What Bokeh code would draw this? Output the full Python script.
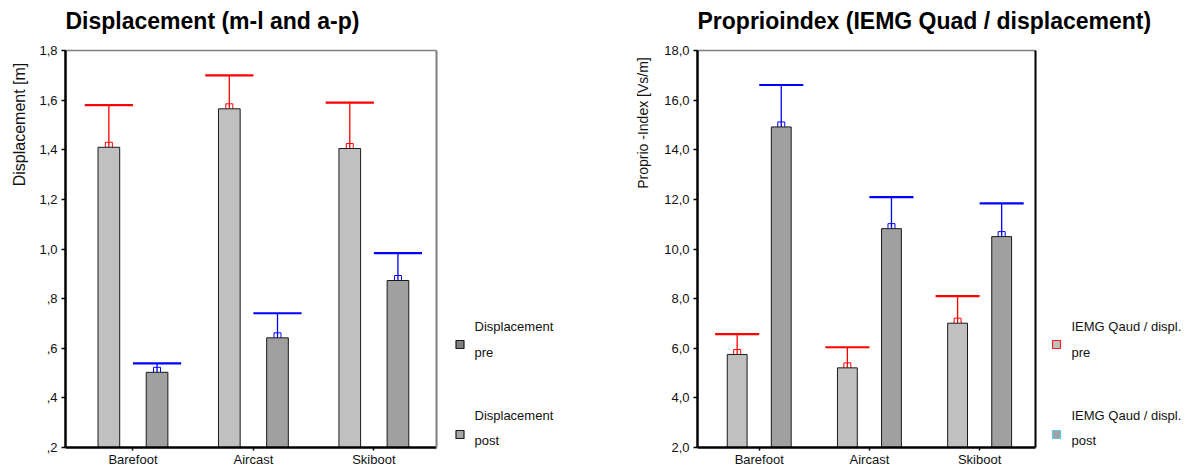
import numpy as np
from bokeh.plotting import figure
from bokeh.models import Range1d, FixedTicker, LinearAxis
from bokeh.core.properties import value
from bokeh.layouts import row, column
from bokeh.embed import file_html
from bokeh.resources import INLINE

# ---------------- data ----------------
categories = ["Barefoot", "Aircast", "Skiboot"]

disp_pre = [1.41, 1.565, 1.405]
disp_pre_err = [0.17, 0.135, 0.185]
disp_post = [0.503, 0.642, 0.873]
disp_post_err = [0.036, 0.099, 0.110]
disp_ticks = [0.2, 0.4, 0.6, 0.8, 1.0, 1.2, 1.4, 1.6, 1.8]
disp_tick_labels = [",2", ",4", ",6", ",8", "1,0", "1,2", "1,4", "1,6", "1,8"]

prop_pre = [5.75, 5.21, 7.01]
prop_pre_err = [0.82, 0.83, 1.09]
prop_post = [14.92, 10.82, 10.50]
prop_post_err = [1.69, 1.27, 1.34]
prop_ticks = [2.0, 4.0, 6.0, 8.0, 10.0, 12.0, 14.0, 16.0, 18.0]
prop_tick_labels = ["2,0", "4,0", "6,0", "8,0", "10,0", "12,0", "14,0", "16,0", "18,0"]

titles = ["Displacement (m-l and a-p)", "Proprioindex (IEMG Quad / displacement)"]
y_labels = ["Displacement [m]", "Proprio -Index [Vs/m]"]
disp_legend = [["Displacement", "pre"], ["Displacement", "post"]]
prop_legend = [["IEMG Qaud / displ.", "pre"], ["IEMG Qaud / displ.", "post"]]

FONT = "Liberation Sans"
TXT = "#111111"
W, H = 1191, 470
TITLE_H = 42
ROW_H = H - TITLE_H
FRAME_TOP, FRAME_BOT = 50, 447   # page px


def blank(x_start, x_end, frame_top, frame_bot, fig_top, fig_bot):
    """Figure whose data coordinates equal page pixels (y = -page_y)."""
    p = figure(width=x_end - x_start, height=fig_bot - fig_top,
               x_range=Range1d(x_start, x_end), y_range=Range1d(-frame_bot, -frame_top),
               min_border_left=0, min_border_right=0,
               min_border_top=frame_top - fig_top, min_border_bottom=fig_bot - frame_bot,
               x_axis_location=None, y_axis_location=None,
               toolbar_location=None, output_backend="svg", title=None)
    p.outline_line_color = None
    p.xgrid.visible = False
    p.ygrid.visible = False
    p.background_fill_color = "white"
    p.border_fill_color = "white"
    return p


def chart(fig_left, fig_right, frame_l, frame_r, x_end, y_rng, ticks, tick_labels,
          pre, pre_err, post, post_err, right_border_color):
    x0, x1 = 0.44, x_end
    y0, y1 = y_rng
    p = figure(width=fig_right - fig_left, height=ROW_H,
               x_range=Range1d(x0, x1), y_range=Range1d(y0, y1),
               min_border_left=frame_l - fig_left,
               min_border_right=fig_right - frame_r,
               min_border_top=FRAME_TOP - TITLE_H,
               min_border_bottom=H - FRAME_BOT,
               toolbar_location=None, output_backend="svg", title=None)
    p.outline_line_color = None
    p.xgrid.visible = False
    p.ygrid.visible = False
    p.background_fill_color = "white"
    p.border_fill_color = "white"

    xa = p.xaxis[0]
    xa.ticker = FixedTicker(ticks=[1, 2, 3])
    xa.major_label_overrides = {i + 1: c for i, c in enumerate(categories)}
    xa.axis_line_width = 2.5
    xa.axis_line_color = "black"
    xa.major_tick_out = 3
    xa.major_tick_in = 0
    xa.major_tick_line_width = 1.5
    xa.minor_tick_line_color = None
    xa.major_label_text_font = FONT
    xa.major_label_text_font_size = "13px"
    xa.major_label_text_color = TXT
    xa.major_label_standoff = 1

    ya = p.yaxis[0]
    ya.ticker = FixedTicker(ticks=ticks)
    ya.major_label_overrides = {t: l for t, l in zip(ticks, tick_labels)}
    ya.axis_line_width = 2.5
    ya.axis_line_color = "black"
    ya.major_tick_out = 4
    ya.major_tick_in = 0
    ya.major_tick_line_width = 1.5
    ya.minor_tick_line_color = None
    ya.major_label_text_font = FONT
    ya.major_label_text_font_size = "13px"
    ya.major_label_text_color = TXT
    ya.major_label_standoff = 4

    p.add_layout(LinearAxis(ticker=FixedTicker(ticks=[]), axis_line_color="#808080",
                            axis_line_width=1.5, major_tick_out=0, minor_tick_out=0,
                            major_label_text_font_size="0px"), "above")
    p.add_layout(LinearAxis(ticker=FixedTicker(ticks=[]), axis_line_color=right_border_color,
                            axis_line_width=2, major_tick_out=0, minor_tick_out=0,
                            major_label_text_font_size="0px"), "right")

    xs = np.arange(1, len(categories) + 1, dtype=float)
    for vals, errs, off, fill, ecol in [(pre, pre_err, -0.2, "#c0c0c0", "#ff0000"),
                                         (post, post_err, 0.2, "#a0a0a0", "#0000ff")]:
        bx = xs + off
        v = np.array(vals)
        et = v + np.array(errs)
        p.segment(x0=bx, y0=v, x1=bx, y1=et, line_color=ecol, line_width=1.3)
        p.rect(x=bx, y=v, width=7, height=10, width_units="screen", height_units="screen",
               fill_color=None, line_color=ecol, line_width=1)
        p.vbar(x=bx, width=0.18, bottom=y0, top=v, fill_color=fill,
               line_color="#1a1a1a", line_width=1)
        p.segment(x0=bx - 0.2, y0=et, x1=bx + 0.2, y1=et, line_color=ecol, line_width=2.2)
    return p


def legend(p, texts, text_x, swatch_x, styles):
    mids = [(325.5, 351.5), (414.5, 440)]
    sw_y = [344, 434]
    for (l1, l2), (m1, m2), sy, (sfill, sline) in zip(texts, mids, sw_y, styles):
        p.text(x=[text_x, text_x], y=[-m1, -m2], text=[l1, l2], text_font=value(FONT),
               text_font_size="13px", text_color=TXT, text_align="left",
               text_baseline="middle")
        p.rect(x=[swatch_x], y=[-sy], width=8, height=8, fill_color=sfill,
               line_color=sline, line_width=1.2)


def ylabel(p, text, cx, cy, size):
    p.text(x=[cx], y=[-cy], text=[text], angle=np.pi / 2, text_font=value(FONT),
           text_font_size=size, text_color=TXT, text_align="center",
           text_baseline="middle")


# title strip
tstrip = blank(0, W, 0, TITLE_H, 0, TITLE_H)
tstrip.text(x=[65, 697], y=[-20, -20], text=titles, text_font=value(FONT),
            text_font_size="23px", text_font_style="bold", text_color="black",
            text_align="left", text_baseline="middle")

# left strip with first y label
s0 = blank(0, 30, FRAME_TOP, FRAME_BOT, TITLE_H, H)
ylabel(s0, y_labels[0], 19, 124, "16px")

p1 = chart(30, 450, 65, 436, 3.52, (0.2, 1.8), disp_ticks, disp_tick_labels,
           disp_pre, disp_pre_err, disp_post, disp_post_err, "#808080")

leg1 = blank(450, 660, FRAME_TOP, FRAME_BOT, TITLE_H, H)
legend(leg1, disp_legend, 474, 459.5, [("#7f7f7f", "#1a1a1a"), ("#a6a6a6", "#1a1a1a")])
ylabel(leg1, y_labels[1], 642, 122.5, "14px")

p2 = chart(660, 1040, 697, 1035, 3.507, (2.0, 18.0), prop_ticks, prop_tick_labels,
           prop_pre, prop_pre_err, prop_post, prop_post_err, "black")

leg2 = blank(1040, W, FRAME_TOP, FRAME_BOT, TITLE_H, H)
legend(leg2, prop_legend, 1071, 1056, [("#c0c0c0", "#ff2020"), ("#a0a0a0", "#5bc8f0")])

layout = column(tstrip, row(s0, p1, leg1, p2, leg2))

open("out.html", "w").write(file_html(layout, INLINE))
